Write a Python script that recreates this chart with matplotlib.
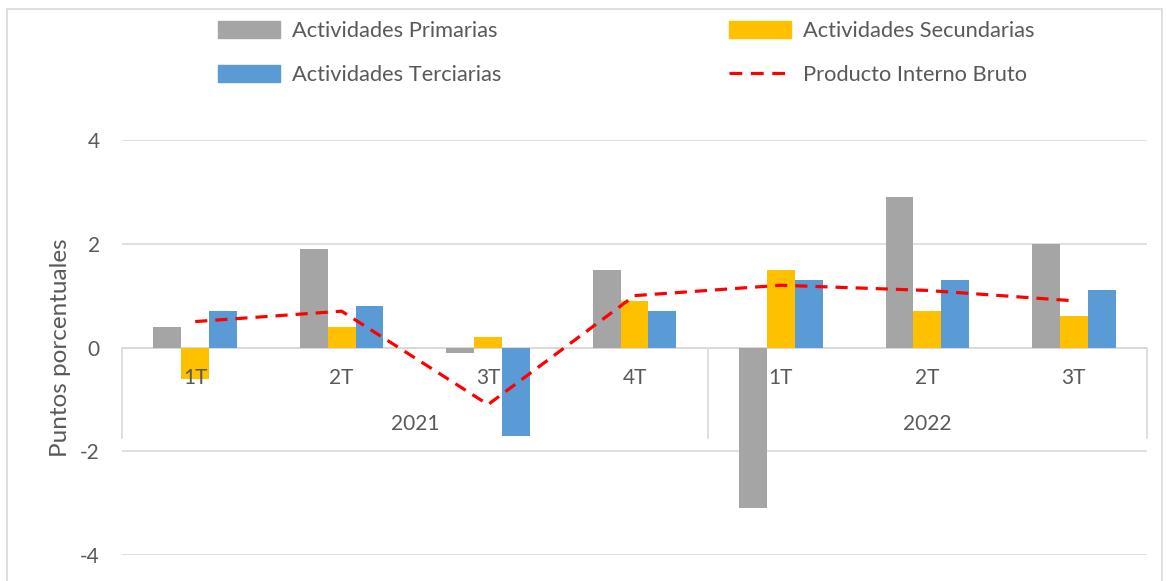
import matplotlib
matplotlib.use("Agg")
import matplotlib.pyplot as plt
from matplotlib.patches import Rectangle, Patch
from matplotlib.lines import Line2D
import numpy as np

quarters = ["1T", "2T", "3T", "4T", "1T", "2T", "3T"]
years = ["2021", "2022"]
year_spans = [(0, 3), (4, 6)]
primarias = [0.4, 1.9, -0.1, 1.5, -3.1, 2.9, 2.0]
secundarias = [-0.6, 0.4, 0.2, 0.9, 1.5, 0.7, 0.6]
terciarias = [0.7, 0.8, -1.7, 0.7, 1.3, 1.3, 1.1]
pib = [0.5, 0.7, -1.1, 1.0, 1.2, 1.1, 0.9]

C_PRIM = "#A5A5A5"
C_SEC = "#FFC000"
C_TER = "#5B9BD5"
C_PIB = "#FF0000"
C_GRID = "#D9D9D9"
C_TEXT = "#595959"
FONT = "Lato"
FS_TICK = 15
FS_LEG = 15.75
FS_YLAB = 17.5

plt.rcParams["font.family"] = [FONT, "DejaVu Sans"]

W, H = 1167, 581
fig = plt.figure(figsize=(W / 100, H / 100), dpi=100)

# chart border
fig.patches.append(Rectangle((7 / W, -0.01), (1162 - 7) / W, (H - 9) / H + 0.01,
                             transform=fig.transFigure, fill=False,
                             edgecolor=C_GRID, lw=1.2))

ax = fig.add_axes([122 / W, (H - 555) / H, (1147 - 122) / W, (555 - 140) / H])
x = np.arange(len(quarters))
bw = 0.19
ax.bar(x - bw, primarias, bw, color=C_PRIM, zorder=2)
ax.bar(x, secundarias, bw, color=C_SEC, zorder=2)
ax.bar(x + bw, terciarias, bw, color=C_TER, zorder=2)
ax.plot(x, pib, color=C_PIB, lw=2.3, dashes=(3.8, 2.5), zorder=3)

ax.set_xlim(-0.5, len(quarters) - 0.5)
ax.set_ylim(-4, 4)
ax.set_yticks([-4, -2, 0, 2, 4])
ax.set_yticklabels(["-4", "-2", "0", "2", "4"])
ax.grid(axis="y", color=C_GRID, lw=1.2, zorder=0)
ax.set_axisbelow(True)
for s in ax.spines.values():
    s.set_visible(False)
ax.tick_params(axis="y", length=0, pad=16, labelsize=FS_TICK, labelcolor=C_TEXT)
ax.set_xticks([])
ax.axhline(0, color=C_GRID, lw=1.4, zorder=1)

ax.set_ylabel("Puntos porcentuales", fontsize=FS_YLAB, color=C_TEXT)
ax.yaxis.set_label_coords(-0.05, 0.5)

# category labels
for xi, q in zip(x, quarters):
    ax.text(xi, -0.58, q, ha="center", va="center", fontsize=FS_TICK, color=C_TEXT, zorder=5)
for (a, b), yr in zip(year_spans, years):
    ax.text((a + b) / 2, -1.48, yr, ha="center", va="center", fontsize=FS_TICK, color=C_TEXT, zorder=5)
for xs in [-0.5, 3.5, 6.5]:
    ax.plot([xs, xs], [0, -1.74], color=C_GRID, lw=1.2, zorder=1, clip_on=False)

handles = [Patch(color=C_PRIM), Patch(color=C_TER), Patch(color=C_SEC),
           Line2D([0], [0], color=C_PIB, lw=2.3, dashes=(4, 2.7))]
labels = ["Actividades Primarias", "Actividades Terciarias",
          "Actividades Secundarias", "Producto Interno Bruto"]
leg = fig.legend(handles, labels, ncol=2, loc="upper left",
                 bbox_to_anchor=(209 / W, 1 - 12 / H), frameon=False,
                 borderaxespad=0,
                 fontsize=FS_LEG, handlelength=2.85, handleheight=0.8,
                 handletextpad=0.55, columnspacing=10.4, labelspacing=1.1,
                 labelcolor=C_TEXT)

fig.savefig("out.png", dpi=100)
